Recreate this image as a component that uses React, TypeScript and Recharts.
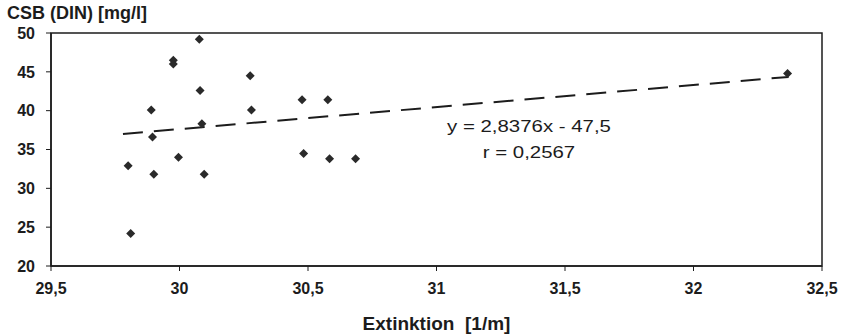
import {
  ComposedChart,
  Scatter,
  XAxis,
  YAxis,
  ReferenceArea
} from 'recharts';

// Extinktion [1/m] vs CSB (DIN) [mg/l]
const extinktion = [
  30.077, 29.976, 29.976, 30.08, 30.275, 29.89, 30.28, 30.087, 29.895, 29.8,
  29.9, 29.996, 30.096, 29.81, 30.477, 30.577, 30.483, 30.584, 30.685, 32.366
];
const csb = [
  49.2, 46.5, 46.0, 42.6, 44.5, 40.1, 40.1, 38.3, 36.6, 32.9,
  31.8, 34.0, 31.8, 24.2, 41.4, 41.4, 34.5, 33.8, 33.8, 44.8
];

// regression line end points as drawn
const trendX = [29.78, 32.37];
const trendY = [37.0, 44.35];

const xTicks = [29.5, 30, 30.5, 31, 31.5, 32, 32.5];
const yTicks = [20, 25, 30, 35, 40, 45, 50];

const equationText = 'y = 2,8376x - 47,5';
const rText = 'r = 0,2567';

const points = extinktion.map((x, i) => ({ x, y: csb[i] }));
const trend = trendX.map((x, i) => ({ x, y: trendY[i] }));

const FONT = 'Arial, "Liberation Sans", sans-serif';
const INK = '#1c1c1c';

const fmt = (v: number) => String(v).replace('.', ',');

const Diamond = (props: any) => {
  const { cx, cy } = props;
  if (cx == null || cy == null) return null;
  const r = 4.5;
  return (
    <polygon
      points={`${cx},${cy - r} ${cx + r},${cy} ${cx},${cy + r} ${cx - r},${cy}`}
      fill="#2a2a2a"
    />
  );
};

export default function App() {
  return (
    <div style={{ position: 'relative', width: 846, height: 336, background: '#fff', fontFamily: FONT }}>
      <style>{'body{margin:0}'}</style>
      <div style={{ position: 'absolute', left: 7, top: 3, fontSize: 18, fontWeight: 'bold', color: INK, whiteSpace: 'nowrap' }}>
        CSB (DIN) [mg/l]
      </div>
      <ComposedChart
        width={846}
        height={336}
        margin={{ top: 33, right: 24, left: 0, bottom: 0 }}
      >
        <ReferenceArea x1={29.5} x2={32.5} y1={20} y2={50} fill="none" stroke={INK} strokeWidth={1.5} ifOverflow="visible" />
        <XAxis
          type="number"
          dataKey="x"
          domain={[29.5, 32.5]}
          ticks={xTicks}
          tickFormatter={fmt}
          height={70}
          tickSize={5}
          tickMargin={12}
          allowDataOverflow
          axisLine={{ stroke: INK, strokeWidth: 1.5 }}
          tickLine={{ stroke: INK }}
          tick={{ fill: INK, fontSize: 16, fontWeight: 'bold', fontFamily: FONT }}
          label={{ value: 'Extinktion\u00a0\u00a0[1/m]', position: 'insideBottom', offset: 6, fill: INK, fontSize: 19, fontWeight: 'bold', fontFamily: FONT }}
        />
        <YAxis
          type="number"
          dataKey="y"
          domain={[20, 50]}
          ticks={yTicks}
          width={51}
          tickSize={5}
          tickMargin={11}
          allowDataOverflow
          axisLine={{ stroke: INK, strokeWidth: 1.5 }}
          tickLine={{ stroke: INK }}
          tick={{ fill: INK, fontSize: 16, fontWeight: 'bold', fontFamily: FONT }}
        />
        <Scatter
          data={trend}
          line={{ stroke: INK, strokeWidth: 2, strokeDasharray: '20 11' }}
          shape={() => null}
          isAnimationActive={false}
        />
        <Scatter data={points} shape={Diamond} isAnimationActive={false} />
      </ComposedChart>
      <div
        style={{
          position: 'absolute',
          left: 429,
          top: 114,
          width: 200,
          textAlign: 'center',
          fontSize: 17,
          lineHeight: '26px',
          color: INK,
          whiteSpace: 'nowrap',
          transform: 'scaleX(1.2)'
        }}
      >
        {equationText}
        <br />
        {rText}
      </div>
    </div>
  );
}
